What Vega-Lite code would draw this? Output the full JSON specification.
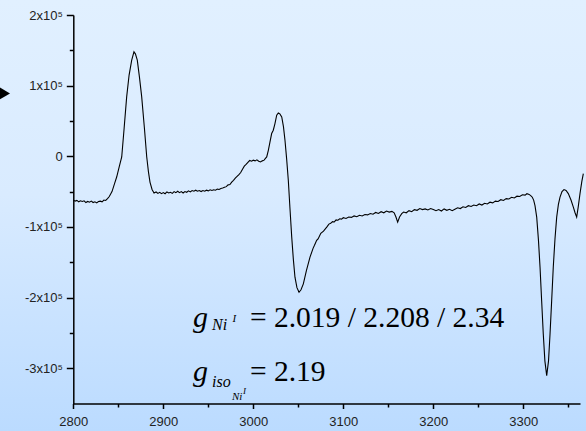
{
  "$schema": "https://vega.github.io/schema/vega-lite/v6.json",
  "width": 586,
  "height": 431,
  "autosize": "none",
  "padding": 0,
  "background": "#d8eaff",
  "config": {
    "view": {
      "stroke": null,
      "fill": {"gradient": "linear", "x1": 0, "y1": 0, "x2": 0, "y2": 1,
        "stops": [{"offset": 0, "color": "#e1f0ff"}, {"offset": 0.45, "color": "#d9ebff"}, {"offset": 1, "color": "#bbdbff"}]}
    },
    "axis": {
      "labelFont": "Liberation Sans",
      "labelFontSize": 13,
      "labelColor": "#222222",
      "domainColor": "#000000",
      "domainWidth": 1.5,
      "tickColor": "#000000",
      "tickWidth": 1.5,
      "grid": false,
      "title": null,
      "labelOverlap": false,
      "labelBound": false,
      "labelFlush": false
    }
  },
  "datasets": {
    "spectrum": [
      {"B": 2800, "I": -62000}, {"B": 2802, "I": -63500}, {"B": 2804, "I": -62500}, {"B": 2806, "I": -64500},
      {"B": 2808, "I": -63000}, {"B": 2810, "I": -64000}, {"B": 2812, "I": -63000}, {"B": 2814, "I": -65500},
      {"B": 2816, "I": -64000}, {"B": 2818, "I": -65000}, {"B": 2820, "I": -63500}, {"B": 2822, "I": -65500},
      {"B": 2824, "I": -64500}, {"B": 2826, "I": -66000}, {"B": 2828, "I": -64000}, {"B": 2830, "I": -63500},
      {"B": 2832, "I": -64500}, {"B": 2834, "I": -62000}, {"B": 2836, "I": -62500}, {"B": 2838, "I": -60000},
      {"B": 2840, "I": -57000}, {"B": 2843, "I": -50000}, {"B": 2846, "I": -38000}, {"B": 2848.2, "I": -29400},
      {"B": 2851, "I": -15000}, {"B": 2853.8, "I": -1000}, {"B": 2856.5, "I": 40000}, {"B": 2859.3, "I": 84100},
      {"B": 2862, "I": 115000}, {"B": 2864.9, "I": 136200}, {"B": 2867.4, "I": 147900}, {"B": 2869, "I": 145000},
      {"B": 2871.1, "I": 136200}, {"B": 2873.5, "I": 112000}, {"B": 2876, "I": 84100}, {"B": 2879, "I": 40000},
      {"B": 2881.6, "I": -1000}, {"B": 2883.5, "I": -22000}, {"B": 2885.2, "I": -36500}, {"B": 2887.5, "I": -47000},
      {"B": 2889.7, "I": -52100}, {"B": 2892, "I": -50500}, {"B": 2894, "I": -52500}, {"B": 2896, "I": -51000},
      {"B": 2898, "I": -53000}, {"B": 2900, "I": -51500}, {"B": 2902, "I": -53000}, {"B": 2904, "I": -50500},
      {"B": 2906, "I": -52000}, {"B": 2908, "I": -51000}, {"B": 2910, "I": -52500}, {"B": 2912, "I": -50000},
      {"B": 2914, "I": -51500}, {"B": 2916, "I": -49500}, {"B": 2918, "I": -51500}, {"B": 2920, "I": -50000},
      {"B": 2922, "I": -52000}, {"B": 2924, "I": -50000}, {"B": 2926, "I": -51000}, {"B": 2928, "I": -49000},
      {"B": 2930, "I": -50500}, {"B": 2932, "I": -48500}, {"B": 2934, "I": -49500}, {"B": 2936, "I": -48000},
      {"B": 2938, "I": -49500}, {"B": 2940, "I": -48500}, {"B": 2942, "I": -50000}, {"B": 2944, "I": -48500},
      {"B": 2946, "I": -49500}, {"B": 2948, "I": -48000}, {"B": 2950, "I": -49000}, {"B": 2952, "I": -47500},
      {"B": 2954, "I": -48500}, {"B": 2956, "I": -47500}, {"B": 2958, "I": -48000}, {"B": 2960, "I": -46500},
      {"B": 2962, "I": -47000}, {"B": 2964, "I": -45500}, {"B": 2966, "I": -45000}, {"B": 2968, "I": -44000},
      {"B": 2970, "I": -43000}, {"B": 2972, "I": -40500}, {"B": 2974, "I": -40000}, {"B": 2976, "I": -36500},
      {"B": 2978, "I": -34000}, {"B": 2980, "I": -31000}, {"B": 2982, "I": -28500}, {"B": 2984, "I": -26000},
      {"B": 2986, "I": -23000}, {"B": 2988, "I": -18500}, {"B": 2990, "I": -14000}, {"B": 2992, "I": -11500},
      {"B": 2994, "I": -8500}, {"B": 2996, "I": -6000}, {"B": 2998, "I": -7000}, {"B": 3000, "I": -5500},
      {"B": 3002, "I": -6500}, {"B": 3004, "I": -5000}, {"B": 3006, "I": -7000}, {"B": 3008, "I": -8000},
      {"B": 3010, "I": -6500}, {"B": 3012, "I": -5500}, {"B": 3013.5, "I": -3000}, {"B": 3014.9, "I": -1000},
      {"B": 3016.7, "I": 8500}, {"B": 3018.5, "I": 20000}, {"B": 3020.4, "I": 32200},
      {"B": 3022.2, "I": 36900}, {"B": 3024, "I": 46000}, {"B": 3026, "I": 58200}, {"B": 3027.8, "I": 61400},
      {"B": 3029.5, "I": 60000}, {"B": 3031.6, "I": 55700}, {"B": 3033.5, "I": 42000}, {"B": 3035.2, "I": 22700},
      {"B": 3037, "I": -3000}, {"B": 3038.9, "I": -34000}, {"B": 3040.8, "I": -75000}, {"B": 3042.7, "I": -114500},
      {"B": 3044.5, "I": -146000}, {"B": 3046.3, "I": -171200}, {"B": 3048.5, "I": -186000}, {"B": 3050.8, "I": -192500},
      {"B": 3053, "I": -189000}, {"B": 3055.6, "I": -180600}, {"B": 3059, "I": -162000}, {"B": 3063, "I": -142800},
      {"B": 3066.5, "I": -130000}, {"B": 3068, "I": -126000}, {"B": 3070.4, "I": -119100}, {"B": 3072, "I": -117000},
      {"B": 3075, "I": -109000}, {"B": 3078, "I": -106000}, {"B": 3081.6, "I": -100300},
      {"B": 3084, "I": -96000}, {"B": 3086, "I": -95000}, {"B": 3088, "I": -92500}, {"B": 3090, "I": -93000},
      {"B": 3092, "I": -90000}, {"B": 3094, "I": -90500}, {"B": 3096, "I": -88500}, {"B": 3098, "I": -89000},
      {"B": 3100, "I": -87000}, {"B": 3103, "I": -88000}, {"B": 3106, "I": -86000}, {"B": 3109, "I": -86500},
      {"B": 3112, "I": -84500}, {"B": 3115, "I": -85500}, {"B": 3118, "I": -83500}, {"B": 3121, "I": -84500},
      {"B": 3124, "I": -82500}, {"B": 3127, "I": -83000}, {"B": 3130, "I": -81000}, {"B": 3133, "I": -82000},
      {"B": 3136, "I": -79500}, {"B": 3139, "I": -81000}, {"B": 3142, "I": -78500}, {"B": 3145, "I": -80000},
      {"B": 3148, "I": -77500}, {"B": 3151, "I": -79000}, {"B": 3154, "I": -78000}, {"B": 3156.5, "I": -80000},
      {"B": 3158.5, "I": -86000}, {"B": 3160.4, "I": -93200}, {"B": 3162.5, "I": -86000}, {"B": 3164.9, "I": -81300},
      {"B": 3167, "I": -79000}, {"B": 3170, "I": -80000}, {"B": 3173, "I": -77000}, {"B": 3176, "I": -78500},
      {"B": 3179, "I": -75500}, {"B": 3182, "I": -76500}, {"B": 3185, "I": -74000}, {"B": 3188, "I": -75500},
      {"B": 3191, "I": -74500}, {"B": 3194, "I": -76000}, {"B": 3197, "I": -74000}, {"B": 3200, "I": -75500},
      {"B": 3203, "I": -77000}, {"B": 3206, "I": -75500}, {"B": 3209, "I": -77500}, {"B": 3212, "I": -74500},
      {"B": 3215, "I": -76500}, {"B": 3218, "I": -75000}, {"B": 3221, "I": -77000}, {"B": 3224, "I": -75000},
      {"B": 3227, "I": -73000}, {"B": 3230, "I": -74000}, {"B": 3233, "I": -71500}, {"B": 3236, "I": -72500},
      {"B": 3239, "I": -70000}, {"B": 3242, "I": -71000}, {"B": 3245, "I": -69000}, {"B": 3248, "I": -70000},
      {"B": 3251, "I": -67500}, {"B": 3254, "I": -69000}, {"B": 3257, "I": -66500}, {"B": 3260, "I": -67500},
      {"B": 3263, "I": -65000}, {"B": 3266, "I": -66000}, {"B": 3269, "I": -63500}, {"B": 3272, "I": -64000},
      {"B": 3275, "I": -61500}, {"B": 3278, "I": -62500}, {"B": 3281, "I": -60000}, {"B": 3284, "I": -60500},
      {"B": 3287, "I": -58000}, {"B": 3290, "I": -59000}, {"B": 3293, "I": -56500}, {"B": 3296, "I": -57000},
      {"B": 3299, "I": -54500}, {"B": 3302, "I": -55000}, {"B": 3304, "I": -53000}, {"B": 3306.5, "I": -54000},
      {"B": 3308.5, "I": -56000}, {"B": 3310, "I": -58000}, {"B": 3311.5, "I": -62000}, {"B": 3313, "I": -70000},
      {"B": 3314.9, "I": -86100}, {"B": 3316.8, "I": -118000}, {"B": 3318.6, "I": -157000}, {"B": 3320.4, "I": -205000},
      {"B": 3322.2, "I": -251500}, {"B": 3324, "I": -290000}, {"B": 3326, "I": -310600}, {"B": 3328, "I": -290000},
      {"B": 3329.7, "I": -251500}, {"B": 3331.5, "I": -205000}, {"B": 3333.3, "I": -157000}, {"B": 3335.2, "I": -117000},
      {"B": 3337.1, "I": -86100}, {"B": 3339, "I": -68000}, {"B": 3340.8, "I": -57700}, {"B": 3343, "I": -50000},
      {"B": 3345.2, "I": -47200}, {"B": 3347.5, "I": -48500}, {"B": 3350, "I": -52900}, {"B": 3353, "I": -62000},
      {"B": 3355.6, "I": -71900}, {"B": 3357.5, "I": -80000}, {"B": 3359.3, "I": -86100}, {"B": 3361, "I": -72000},
      {"B": 3363, "I": -52900}, {"B": 3365, "I": -36000}, {"B": 3366.7, "I": -24500}
    ]
  },
  "encoding": {
    "x": {
      "field": "B", "type": "quantitative",
      "scale": {"domain": [2800, 3363], "range": [73.3, 580], "nice": false, "zero": false},
      "axis": {
        "orient": "bottom", "offset": -27.5,
        "values": [2800, 2850, 2900, 2950, 3000, 3050, 3100, 3150, 3200, 3250, 3300, 3350],
        "labelExpr": "datum.value % 100 !== 0 ? '' : datum.label",
        "format": "d",
        "tickSize": {"condition": {"test": "datum.value % 100 !== 0", "value": 3.5}, "value": 5},
        "labelPadding": 7
      }
    },
    "y": {
      "field": "I", "type": "quantitative",
      "scale": {"domain": [-350000, 200000], "range": [403.5, 15], "nice": false, "zero": false},
      "axis": {
        "orient": "left", "offset": -73.3,
        "values": [-300000, -250000, -200000, -150000, -100000, -50000, 0, 50000, 100000, 150000, 200000],
        "labelExpr": "datum.value % 100000 !== 0 ? '' : (datum.value === 0 ? '0' : (datum.value / 100000) + 'x10⁵')",
        "tickSize": {"condition": {"test": "datum.value % 100000 !== 0", "value": 4}, "value": 7},
        "labelPadding": 4
      }
    }
  },
  "layer": [
    {
      "data": {"name": "spectrum"},
      "mark": {"type": "line", "color": "#000000", "strokeWidth": 1.1, "clip": false}
    },
    {
      "data": {"values": [{"B": 2724, "I": 89000}]},
      "mark": {"type": "point", "shape": "triangle-right", "filled": true, "color": "#000000", "opacity": 1, "size": 140}
    },
    {
      "data": {"values": [{"B": 2933, "I": -241100, "t": "g"}, {"B": 2933, "I": -317500, "t": "g"}]},
      "mark": {"type": "text", "font": "Liberation Serif, Times New Roman, serif", "fontStyle": "italic", "fontSize": 30, "align": "left", "baseline": "alphabetic", "color": "#000000"},
      "encoding": {"text": {"field": "t"}}
    },
    {
      "data": {"values": [{"B": 2954.1, "I": -246500, "t": "Ni"}, {"B": 2954.1, "I": -326000, "t": "iso"}]},
      "mark": {"type": "text", "font": "Liberation Serif, Times New Roman, serif", "fontStyle": "italic", "fontSize": 16, "align": "left", "baseline": "alphabetic", "color": "#000000"},
      "encoding": {"text": {"field": "t"}}
    },
    {
      "data": {"values": [{"B": 2977, "I": -235200, "t": "I"}]},
      "mark": {"type": "text", "font": "Liberation Serif, Times New Roman, serif", "fontStyle": "italic", "fontSize": 11, "align": "left", "baseline": "alphabetic", "color": "#000000"},
      "encoding": {"text": {"field": "t"}}
    },
    {
      "data": {"values": [{"B": 2976.3, "I": -344500, "t": "Ni"}]},
      "mark": {"type": "text", "font": "Liberation Serif, Times New Roman, serif", "fontStyle": "italic", "fontSize": 11, "align": "left", "baseline": "alphabetic", "color": "#000000"},
      "encoding": {"text": {"field": "t"}}
    },
    {
      "data": {"values": [{"B": 2988.5, "I": -336000, "t": "I"}]},
      "mark": {"type": "text", "font": "Liberation Serif, Times New Roman, serif", "fontStyle": "italic", "fontSize": 9, "align": "left", "baseline": "alphabetic", "color": "#000000"},
      "encoding": {"text": {"field": "t"}}
    },
    {
      "data": {"values": [{"B": 2996.3, "I": -241100, "t": "= 2.019 / 2.208 / 2.34"}, {"B": 2996.3, "I": -317500, "t": "= 2.19"}]},
      "mark": {"type": "text", "font": "Liberation Serif, Times New Roman, serif", "fontSize": 29.5, "align": "left", "baseline": "alphabetic", "color": "#000000"},
      "encoding": {"text": {"field": "t"}}
    }
  ]
}
